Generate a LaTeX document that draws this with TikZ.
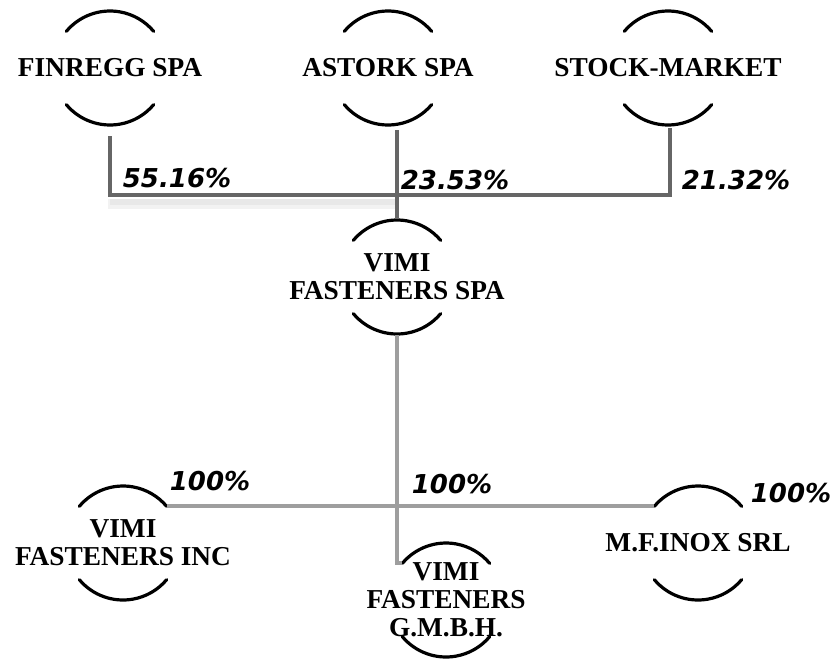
\documentclass[tikz,border=0pt]{standalone}
\usepackage{fontspec}
\setmainfont{Liberation Serif}
\newfontfamily\pctfont{DejaVu Sans}
\usetikzlibrary{calc}

\tikzset{
	firm/.style = {align = center, font = \bfseries\fontsize{20.5}{21}\selectfont, inner sep = 0pt},
	pct/.style = {font = \pctfont\bfseries\itshape\fontsize{19.5}{21}\selectfont, inner sep = 0pt},
	arcline/.style = {line width = 2.4pt, black, line cap = round},
	ownline/.style = {line width = 3pt, black!60},
	subline/.style = {line width = 3pt, black!38},
}

\begin{document}
\begin{tikzpicture}[x = 0.75pt, y = 0.75pt]

	\useasboundingbox (0, 0) rectangle (837, -664);

	% Companies

	\node [firm] (finregg) at (110, -68) {FINREGG SPA};
	\node [firm] (astork) at (388, -68) {ASTORK SPA};
	\node [firm] (market) at (668, -68) {STOCK-MARKET};
	\node [firm] (vimispa) at (397, -277) {VIMI\\FASTENERS SPA};
	\node [firm] (vimiinc) at (123, -543) {VIMI\\FASTENERS INC};
	\node [firm] (vimigmbh) at (446, -600) {VIMI\\FASTENERS\\G.M.B.H.};
	\node [firm] (mfinox) at (698, -543) {M.F.INOX SRL};

	% Arcs round every company

	\foreach \n in {finregg, astork, market, vimispa, vimiinc, vimigmbh, mfinox} {
		\draw [arcline] ([shift = {(140:57)}] \n.center) arc [start angle = 140, end angle = 40, radius = 57];
		\draw [arcline] ([shift = {(220:57)}] \n.center) arc [start angle = 220, end angle = 320, radius = 57];
	}

	% Shareholders of the holding

	\coordinate (bus) at ($(vimispa.center |- 0, -195)$);
	\draw [line width = 8pt, black!5] ($(finregg.center |- bus) + (-2, -9)$) -- ($(bus) + (0, -9)$);
	\draw [line width = 4pt, black!9] ($(finregg.center |- bus) + (0, -7)$) -- ($(bus) + (0, -7)$);
	\draw [ownline] ($(finregg.center) + (0, -68)$) |- (bus) -| ($(market.center) + (2, -60)$);
	\draw [ownline] ($(vimispa.center |- astork.center) + (0, -62)$) -- ($(vimispa.center) + (0, 58)$);

	\node [pct] (p1) at (177, -178) {55.16\%};
	\node [pct] (p2) at (455, -180) {23.53\%};
	\node [pct] (p3) at (736, -180) {21.32\%};

	% Subsidiaries

	\draw [subline] ($(vimispa.center) + (0, -58)$) |- ([shift = {(140:57)}] vimigmbh.center);
	\draw [subline] ([shift = {(40:57)}] vimiinc.center) -- ([shift = {(140:57)}] mfinox.center);

	\node [pct] (p4) at (210, -481) {100\%};
	\node [pct] (p5) at (452, -484) {100\%};
	\node [pct] (p6) at (791, -493) {100\%};

\end{tikzpicture}
\end{document}
